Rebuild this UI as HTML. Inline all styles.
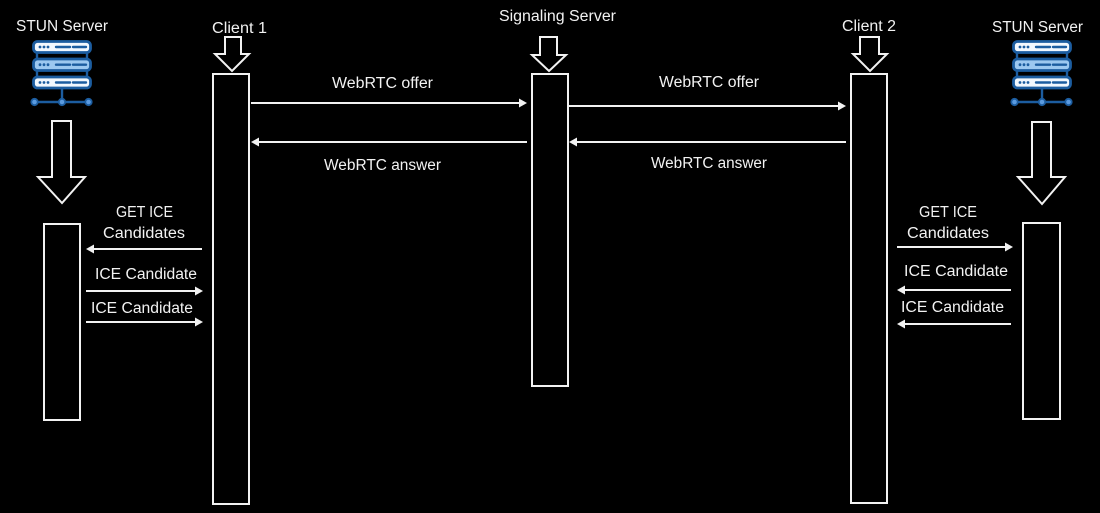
<!DOCTYPE html>
<html>
<head>
<meta charset="utf-8">
<style>
  html,body{margin:0;padding:0;background:#000;}
  svg{display:block;}
  text{font-family:"Liberation Sans",sans-serif;font-size:15.5px;fill:#f2f2f2;}
</style>
</head>
<body>
<svg width="1100" height="513" viewBox="0 0 1100 513" xmlns="http://www.w3.org/2000/svg">
  <defs>
    <g id="srv">
      <!-- connectors -->
      <line x1="5" y1="12" x2="5" y2="19" stroke="#1c5da0" stroke-width="2.4"/>
      <line x1="55" y1="12" x2="55" y2="19" stroke="#1c5da0" stroke-width="2.4"/>
      <line x1="5" y1="30" x2="5" y2="37" stroke="#1c5da0" stroke-width="2.4"/>
      <line x1="55" y1="30" x2="55" y2="37" stroke="#1c5da0" stroke-width="2.4"/>
      <line x1="30" y1="48" x2="30" y2="62" stroke="#1c5da0" stroke-width="2.4"/>
      <line x1="2" y1="62" x2="57" y2="62" stroke="#1c5da0" stroke-width="2.4"/>
      <circle cx="2.5" cy="62" r="3.2" fill="#5b9be0" stroke="#1c5da0" stroke-width="1.8"/>
      <circle cx="30" cy="62" r="3.2" fill="#5b9be0" stroke="#1c5da0" stroke-width="1.8"/>
      <circle cx="56.5" cy="62" r="3.2" fill="#5b9be0" stroke="#1c5da0" stroke-width="1.8"/>
      <!-- rows -->
      <rect x="1.5" y="1.5" width="57" height="11" rx="4" fill="#f2f8fe" stroke="#1c5da0" stroke-width="2.8"/>
      <rect x="1.5" y="19" width="57" height="11.5" rx="4" fill="#9cc8f0" stroke="#1c5da0" stroke-width="2.8"/>
      <rect x="1.5" y="37" width="57" height="11" rx="4" fill="#f2f8fe" stroke="#1c5da0" stroke-width="2.8"/>
      <g fill="#1c5da0">
        <circle cx="8" cy="7" r="1.4"/><circle cx="12" cy="7" r="1.4"/><circle cx="16" cy="7" r="1.4"/>
        <circle cx="8" cy="24.7" r="1.4"/><circle cx="12" cy="24.7" r="1.4"/><circle cx="16" cy="24.7" r="1.4"/>
        <circle cx="8" cy="42.5" r="1.4"/><circle cx="12" cy="42.5" r="1.4"/><circle cx="16" cy="42.5" r="1.4"/>
      </g>
      <g stroke="#1c5da0" stroke-width="2.4" stroke-linecap="round">
        <line x1="24" y1="7" x2="38" y2="7"/><line x1="41" y1="7" x2="54" y2="7"/>
        <line x1="24" y1="24.7" x2="38" y2="24.7"/><line x1="41" y1="24.7" x2="54" y2="24.7"/>
        <line x1="24" y1="42.5" x2="38" y2="42.5"/><line x1="41" y1="42.5" x2="54" y2="42.5"/>
      </g>
    </g>
  </defs>

  <!-- Server icons -->
  <use href="#srv" x="32" y="40"/>
  <use href="#srv" x="1012" y="40"/>

  <!-- Labels top -->
  <text x="62" y="31" text-anchor="middle" textLength="92" lengthAdjust="spacingAndGlyphs">STUN Server</text>
  <text x="239.5" y="33" text-anchor="middle" textLength="55" lengthAdjust="spacingAndGlyphs">Client 1</text>
  <text x="557.5" y="21" text-anchor="middle" textLength="117" lengthAdjust="spacingAndGlyphs">Signaling Server</text>
  <text x="869" y="31" text-anchor="middle" textLength="54" lengthAdjust="spacingAndGlyphs">Client 2</text>
  <text x="1037.5" y="32" text-anchor="middle" textLength="91" lengthAdjust="spacingAndGlyphs">STUN Server</text>

  <!-- Hollow arrows -->
  <g fill="none" stroke="#f2f2f2" stroke-width="2" stroke-linejoin="miter">
    <polygon points="225,37 241,37 241,54 249,54 232,71 215,54 225,54"/>
    <polygon points="540,37 557,37 557,55 566,55 549,71 532,55 540,55"/>
    <polygon points="860,37 879,37 879,54 887,54 870,71 853,54 860,54"/>
    <polygon points="52,121 71,121 71,177 85,177 62,203 38,177 52,177"/>
    <polygon points="1032,122 1051,122 1051,177 1065,177 1042,204 1018,177 1032,177"/>
  </g>

  <!-- Lifeline boxes -->
  <g fill="none" stroke="#f2f2f2" stroke-width="2">
    <rect x="213" y="74" width="36" height="430"/>
    <rect x="532" y="74" width="36" height="312"/>
    <rect x="851" y="74" width="36" height="429"/>
    <rect x="44" y="224" width="36" height="196"/>
    <rect x="1023" y="223" width="37" height="196"/>
  </g>

  <!-- Message lines -->
  <g stroke="#f2f2f2" stroke-width="2">
    <line x1="251" y1="103" x2="521" y2="103"/>
    <line x1="257" y1="142" x2="527" y2="142"/>
    <line x1="569" y1="106" x2="840" y2="106"/>
    <line x1="575" y1="142" x2="846" y2="142"/>
    <line x1="92" y1="249" x2="202" y2="249"/>
    <line x1="86" y1="291" x2="197" y2="291"/>
    <line x1="86" y1="322" x2="197" y2="322"/>
    <line x1="897" y1="247" x2="1007" y2="247"/>
    <line x1="903" y1="290" x2="1011" y2="290"/>
    <line x1="903" y1="324" x2="1011" y2="324"/>
  </g>
  <!-- Arrowheads -->
  <g fill="#f2f2f2">
    <polygon points="527,103 519,98.5 519,107.5"/>
    <polygon points="251,142 259,137.5 259,146.5"/>
    <polygon points="846,106 838,101.5 838,110.5"/>
    <polygon points="569,142 577,137.5 577,146.5"/>
    <polygon points="86,249 94,244.5 94,253.5"/>
    <polygon points="203,291 195,286.5 195,295.5"/>
    <polygon points="203,322 195,317.5 195,326.5"/>
    <polygon points="1013,247 1005,242.5 1005,251.5"/>
    <polygon points="897,290 905,285.5 905,294.5"/>
    <polygon points="897,324 905,319.5 905,328.5"/>
  </g>

  <!-- Message labels -->
  <text x="382.5" y="88" text-anchor="middle" textLength="101" lengthAdjust="spacingAndGlyphs">WebRTC offer</text>
  <text x="382.5" y="170" text-anchor="middle" textLength="117" lengthAdjust="spacingAndGlyphs">WebRTC answer</text>
  <text x="709" y="87" text-anchor="middle" textLength="100" lengthAdjust="spacingAndGlyphs">WebRTC offer</text>
  <text x="709" y="168" text-anchor="middle" textLength="116" lengthAdjust="spacingAndGlyphs">WebRTC answer</text>

  <text x="144.5" y="217" text-anchor="middle" textLength="57" lengthAdjust="spacingAndGlyphs">GET ICE</text>
  <text x="144" y="238" text-anchor="middle" textLength="82" lengthAdjust="spacingAndGlyphs">Candidates</text>
  <text x="146" y="279" text-anchor="middle" textLength="102" lengthAdjust="spacingAndGlyphs">ICE Candidate</text>
  <text x="142" y="313" text-anchor="middle" textLength="102" lengthAdjust="spacingAndGlyphs">ICE Candidate</text>

  <text x="948" y="217" text-anchor="middle" textLength="58" lengthAdjust="spacingAndGlyphs">GET ICE</text>
  <text x="948" y="238" text-anchor="middle" textLength="82" lengthAdjust="spacingAndGlyphs">Candidates</text>
  <text x="956" y="276" text-anchor="middle" textLength="104" lengthAdjust="spacingAndGlyphs">ICE Candidate</text>
  <text x="952.5" y="312" text-anchor="middle" textLength="103" lengthAdjust="spacingAndGlyphs">ICE Candidate</text>
</svg>
</body>
</html>
